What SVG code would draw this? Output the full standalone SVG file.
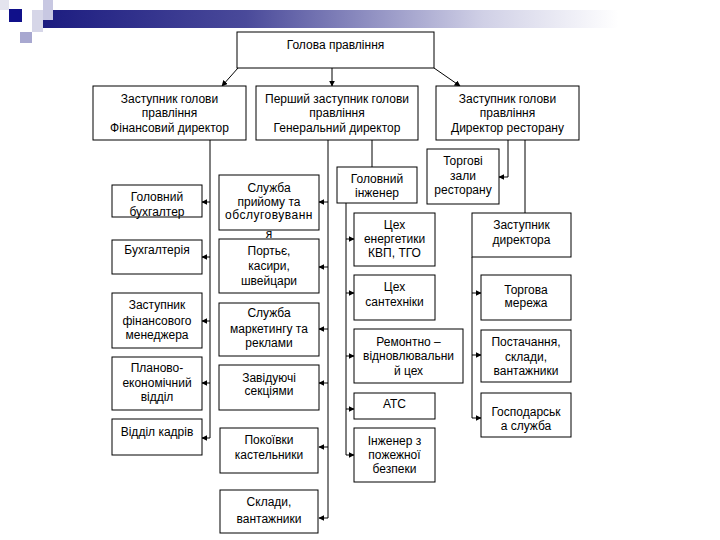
<svg xmlns="http://www.w3.org/2000/svg" width="720" height="540" viewBox="0 0 720 540">
<style>
.b{fill:#fff;stroke:#000;stroke-width:1}
.t{font-family:"Liberation Sans",Arial,sans-serif;font-size:12px;fill:#000;text-anchor:middle}
.c{fill:none;stroke:#000;stroke-width:1}
.a{marker-end:url(#ah)}
</style>
<defs>
<marker id="ah" viewBox="0 0 10 10" refX="9" refY="5" markerWidth="6" markerHeight="6" markerUnits="userSpaceOnUse" orient="auto">
<path d="M0,0 L10,5 L0,10 z" fill="#000"/>
</marker>
<linearGradient id="bar" x1="0" y1="0" x2="1" y2="0">
<stop offset="0" stop-color="#1c1c80"/>
<stop offset="0.3" stop-color="#4a4a9a"/>
<stop offset="0.65" stop-color="#d0d0e6"/>
<stop offset="0.85" stop-color="#ffffff"/>
</linearGradient>
</defs>
<rect width="720" height="540" fill="#fff"/>
<g id="decor">
<rect x="43" y="10" width="677" height="18" fill="url(#bar)"/>
<rect x="0" y="0" width="9" height="10" fill="#e4e4ee"/>
<rect x="32" y="10" width="11" height="22" fill="#d6d6e8"/>
<rect x="43" y="0" width="10" height="20" fill="#c8c8e2"/>
<rect x="20" y="32" width="12" height="11" fill="#a8a8d0"/>
<rect x="9" y="9" width="13" height="13" fill="#10108a"/>
</g>
<g id="connectors">
<path class="c a" d="M238,68 L222,86"/>
<path class="c a" d="M332,68 L332,86"/>
<path class="c a" d="M434,68 L460,86"/>
<path class="c" d="M210,140 L210,438"/>
<path class="c a" d="M210,202 L202,202"/>
<path class="c a" d="M210,257 L202,257"/>
<path class="c a" d="M210,321 L202,321"/>
<path class="c a" d="M210,383 L202,383"/>
<path class="c a" d="M210,438 L202,438"/>
<path class="c" d="M328,140 L328,518"/>
<path class="c a" d="M328,202 L319,202"/>
<path class="c a" d="M328,267 L319,267"/>
<path class="c a" d="M328,329 L319,329"/>
<path class="c a" d="M328,383 L319,383"/>
<path class="c a" d="M328,447 L319,447"/>
<path class="c a" d="M328,518 L319,518"/>
<path class="c" d="M372,140 L372,167"/>
<path class="c" d="M346,203 L346,455"/>
<path class="c a" d="M346,239 L354,239"/>
<path class="c a" d="M346,293 L354,293"/>
<path class="c a" d="M346,356 L354,356"/>
<path class="c a" d="M346,409 L354,409"/>
<path class="c a" d="M346,455 L354,455"/>
<path class="c a" d="M508,140 L508,177 L499,177"/>
<path class="c" d="M525,140 L525,213"/>
<path class="c" d="M472,257 L472,418"/>
<path class="c a" d="M472,293 L481,293"/>
<path class="c a" d="M472,355 L481,355"/>
<path class="c a" d="M472,418 L481,418"/>
</g>
<g id="n-board"><rect class="b" x="237" y="32" width="197" height="36"/><text class="t" x="335.5" y="49">Голова правління</text></g>
<g id="n-fin"><rect class="b" x="93" y="86" width="153" height="54"/><text class="t" x="169.5" y="103">Заступник голови</text><text class="t" x="169.5" y="117">правління</text><text class="t" x="169.5" y="132">Фінансовий директор</text></g>
<g id="n-gen"><rect class="b" x="256" y="86" width="162" height="54"/><text class="t" x="337" y="103">Перший заступник голови</text><text class="t" x="337" y="117">правління</text><text class="t" x="337" y="132">Генеральний директор</text></g>
<g id="n-rest"><rect class="b" x="436" y="86" width="143" height="54"/><text class="t" x="507.5" y="103">Заступник голови</text><text class="t" x="507.5" y="117">правління</text><text class="t" x="507.5" y="132">Директор ресторану</text></g>
<g id="n-buh"><rect class="b" x="112" y="185" width="90" height="32"/><text class="t" x="157" y="201">Головний</text><text class="t" x="157" y="216">бухгалтер</text></g>
<g id="n-buhg"><rect class="b" x="112" y="240" width="90" height="34"/><text class="t" x="157" y="254">Бухгалтерія</text></g>
<g id="n-finm"><rect class="b" x="112" y="293" width="90" height="55"/><text class="t" x="157" y="309">Заступник</text><text class="t" x="157" y="325">фінансового</text><text class="t" x="157" y="339">менеджера</text></g>
<g id="n-plan"><rect class="b" x="112" y="357" width="90" height="53"/><text class="t" x="157" y="372">Планово-</text><text class="t" x="157" y="387">економічний</text><text class="t" x="157" y="401">відділ</text></g>
<g id="n-kadr"><rect class="b" x="112" y="419" width="90" height="36"/><text class="t" x="157" y="436">Відділ кадрів</text></g>
<g id="n-priyom"><rect class="b" x="219" y="175" width="100" height="55"/><text class="t" x="269" y="192">Служба</text><text class="t" x="269" y="206">прийому та</text><text class="t" x="269" y="219" letter-spacing="0.5">обслуговуванн</text><text class="t" x="269" y="238">я</text></g>
<g id="n-porty"><rect class="b" x="219" y="239" width="100" height="54"/><text class="t" x="269" y="255">Портьє,</text><text class="t" x="269" y="270">касири,</text><text class="t" x="269" y="285">швейцари</text></g>
<g id="n-mark"><rect class="b" x="219" y="303" width="100" height="53"/><text class="t" x="269" y="317">Служба</text><text class="t" x="269" y="333">маркетингу та</text><text class="t" x="269" y="347">реклами</text></g>
<g id="n-zav"><rect class="b" x="219" y="365" width="100" height="45"/><text class="t" x="269" y="382">Завідуючі</text><text class="t" x="269" y="395">секціями</text></g>
<g id="n-pok"><rect class="b" x="220" y="428" width="98" height="45"/><text class="t" x="269" y="444">Покоївки</text><text class="t" x="269" y="459">кастельники</text></g>
<g id="n-skl"><rect class="b" x="220" y="490" width="98" height="43"/><text class="t" x="269" y="506">Склади,</text><text class="t" x="269" y="523">вантажники</text></g>
<g id="n-ing"><rect class="b" x="337" y="167" width="80" height="36"/><text class="t" x="377" y="183">Головний</text><text class="t" x="377" y="197">інженер</text></g>
<g id="n-zaly"><rect class="b" x="427" y="149" width="72" height="55"/><text class="t" x="463" y="165">Торгові</text><text class="t" x="463" y="180">зали</text><text class="t" x="463" y="194">ресторану</text></g>
<g id="n-energ"><rect class="b" x="354" y="213" width="81" height="53"/><text class="t" x="394.5" y="229">Цех</text><text class="t" x="394.5" y="243">енергетики</text><text class="t" x="394.5" y="257">КВП, ТГО</text></g>
<g id="n-sant"><rect class="b" x="354" y="275" width="81" height="45"/><text class="t" x="394.5" y="291">Цех</text><text class="t" x="394.5" y="306">сантехніки</text></g>
<g id="n-rem"><rect class="b" x="354" y="329" width="109" height="54"/><text class="t" x="408.5" y="346">Ремонтно –</text><text class="t" x="408.5" y="360">відновлювальни</text><text class="t" x="408.5" y="375">й цех</text></g>
<g id="n-ats"><rect class="b" x="354" y="393" width="81" height="26"/><text class="t" x="394.5" y="408">АТС</text></g>
<g id="n-pozh"><rect class="b" x="354" y="428" width="81" height="54"/><text class="t" x="394.5" y="445">Інженер з</text><text class="t" x="394.5" y="459">пожежної</text><text class="t" x="394.5" y="473">безпеки</text></g>
<g id="n-zdir"><rect class="b" x="472" y="213" width="99" height="44"/><text class="t" x="521.5" y="229">Заступник</text><text class="t" x="521.5" y="244">директора</text></g>
<g id="n-torg"><rect class="b" x="481" y="275" width="90" height="45"/><text class="t" x="526" y="294">Торгова</text><text class="t" x="526" y="307">мережа</text></g>
<g id="n-post"><rect class="b" x="481" y="330" width="90" height="52"/><text class="t" x="526" y="346">Постачання,</text><text class="t" x="526" y="361">склади,</text><text class="t" x="526" y="375">вантажники</text></g>
<g id="n-gosp"><rect class="b" x="481" y="393" width="90" height="44"/><text class="t" x="526" y="416">Господарськ</text><text class="t" x="526" y="430">а служба</text></g>
</svg>
